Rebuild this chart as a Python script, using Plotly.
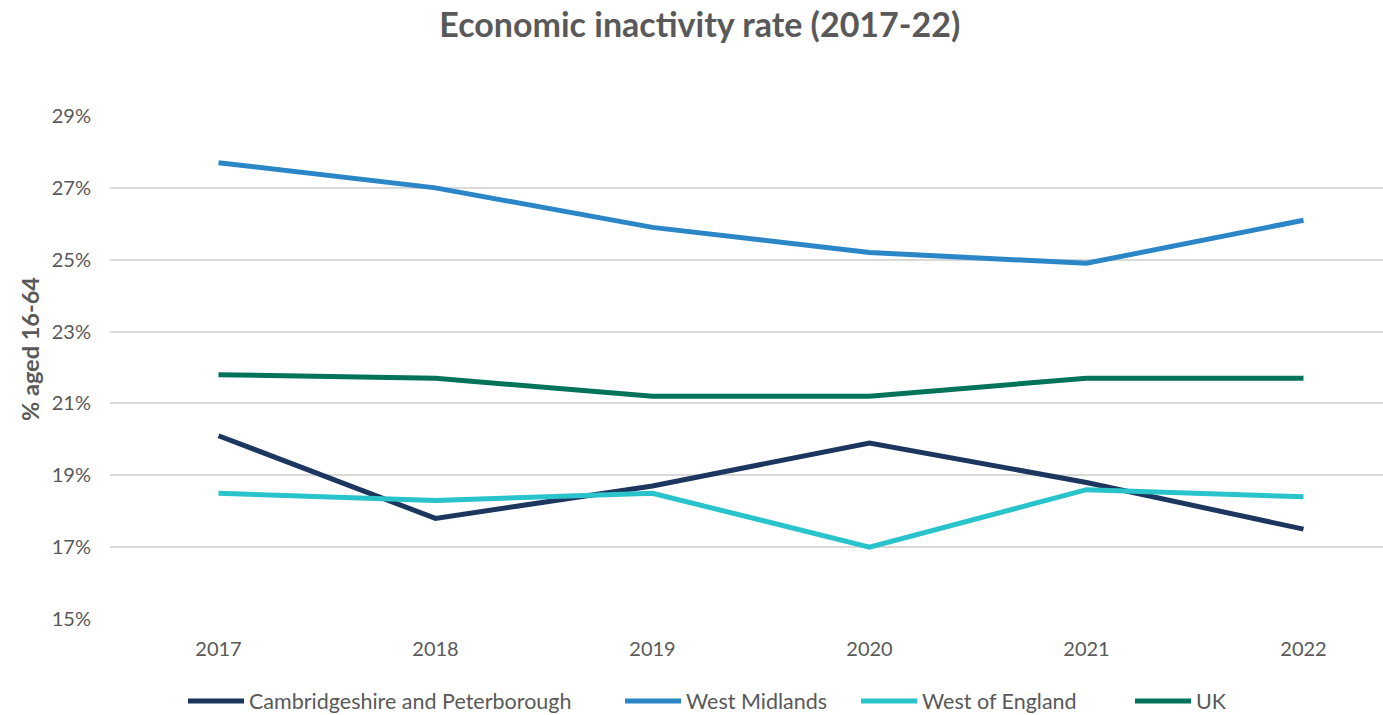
import plotly.graph_objects as go

years = [2017, 2018, 2019, 2020, 2021, 2022]
cambs_peterborough = [20.1, 17.8, 18.7, 19.9, 18.8, 17.5]
west_midlands = [27.7, 27.0, 25.9, 25.2, 24.9, 26.1]
west_of_england = [18.5, 18.3, 18.5, 17.0, 18.6, 18.4]
uk = [21.8, 21.7, 21.2, 21.2, 21.7, 21.7]

y_ticks = [15, 17, 19, 21, 23, 25, 27, 29]
y_tick_labels = [f"{v}%" for v in y_ticks]

series_names = ["Cambridgeshire and Peterborough", "West Midlands", "West of England", "UK"]
series_values = [cambs_peterborough, west_midlands, west_of_england, uk]
series_colours = ["#1c3660", "#2b86c8", "#29c3cb", "#00735a"]
# left edge (in pixels) of each legend entry along the bottom row
legend_left_px = [183, 620, 856, 1130]

text_grey = "#595959"
font_family = "Lato, 'Open Sans', sans-serif"

W, H = 1383, 715
ML, MR, MT, MB = 110, 0, 116, 96
plot_w = W - ML - MR
plot_h = H - MT - MB

fig = go.Figure()
legend_layout = {}
for i, (name, values, colour) in enumerate(zip(series_names, series_values, series_colours)):
    legend_id = "legend" if i == 0 else f"legend{i + 1}"
    fig.add_trace(go.Scatter(
        x=years, y=values, name=name, mode="lines",
        line=dict(color=colour, width=5),
        legend=legend_id,
    ))
    legend_layout[legend_id] = dict(
        orientation="h",
        x=(legend_left_px[i] - ML) / plot_w, xanchor="left",
        y=(H - MB - 701) / plot_h, yanchor="middle",
        font=dict(size=21.5, color=text_grey),
        itemwidth=56, bgcolor="rgba(0,0,0,0)",
    )

fig.update_layout(
    width=W, height=H,
    margin=dict(l=ML, r=MR, t=MT, b=MB, autoexpand=False),
    paper_bgcolor="white", plot_bgcolor="white",
    font=dict(family=font_family, color=text_grey, size=20),
    title=dict(
        text="<b>Economic inactivity rate (2017-22)</b>",
        x=0.506, xanchor="center", y=0.965, yanchor="middle",
        font=dict(size=34, color=text_grey, family=font_family),
    ),
    showlegend=True,
    xaxis=dict(
        range=[2016.5, 2016.5 + plot_w / 217],
        tickvals=years, ticktext=[str(y) for y in years],
        showgrid=False, zeroline=False, showline=False, ticks="",
        tickfont=dict(size=20, color=text_grey),
        ticklabelstandoff=16,
    ),
    yaxis=dict(
        range=[15, 29],
        tickvals=y_ticks, ticktext=y_tick_labels,
        showgrid=True, gridcolor="#d9d9d9", gridwidth=1.5,
        zeroline=False, showline=False, ticks="",
        tickfont=dict(size=20, color=text_grey),
        ticklabelstandoff=18,
    ),
    annotations=[dict(
        text="<b>% aged 16-64</b>", textangle=-90,
        xref="paper", yref="paper",
        x=(30 - ML) / plot_w, y=(H - MB - 349) / plot_h,
        xanchor="center", yanchor="middle", showarrow=False,
        font=dict(size=23.5, color=text_grey, family=font_family),
    )],
    **legend_layout,
)

fig.write_html("out.html")
